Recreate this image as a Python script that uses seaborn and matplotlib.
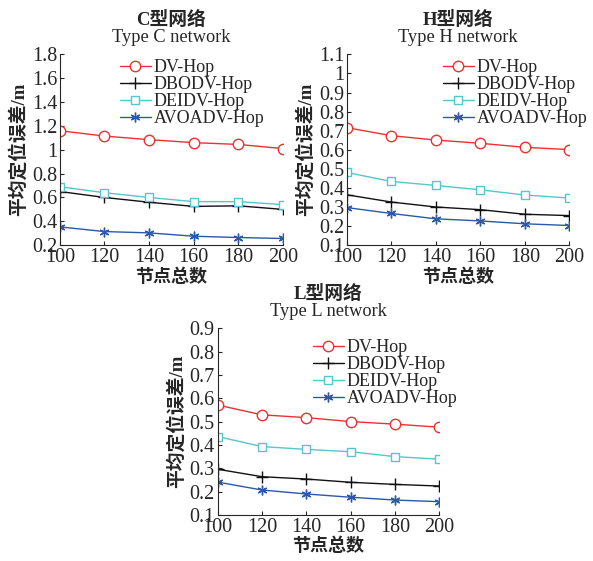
import numpy as np
import seaborn as sns
import matplotlib
matplotlib.use("Agg")
import matplotlib.pyplot as plt
from matplotlib.ticker import FormatStrFormatter

nodes = [100, 120, 140, 160, 180, 200]
methods = ["DV-Hop", "DBODV-Hop", "DEIDV-Hop", "AVOADV-Hop"]

# Type C network
c_dv = [1.16, 1.115, 1.085, 1.06, 1.045, 1.01]
c_dbodv = [0.65, 0.60, 0.56, 0.525, 0.53, 0.50]
c_deidv = [0.69, 0.64, 0.60, 0.565, 0.565, 0.54]
c_avoadv = [0.353, 0.314, 0.303, 0.275, 0.264, 0.256]

# Type H network
h_dv = [0.716, 0.674, 0.651, 0.634, 0.613, 0.601]
h_dbodv = [0.364, 0.326, 0.30, 0.286, 0.262, 0.255]
h_deidv = [0.481, 0.434, 0.413, 0.39, 0.363, 0.347]
h_avoadv = [0.297, 0.266, 0.238, 0.227, 0.212, 0.203]

# Type L network
l_dv = [0.571, 0.529, 0.517, 0.50, 0.489, 0.476]
l_dbodv = [0.296, 0.264, 0.254, 0.24, 0.231, 0.224]
l_deidv = [0.436, 0.393, 0.381, 0.371, 0.35, 0.339]
l_avoadv = [0.241, 0.207, 0.19, 0.176, 0.164, 0.157]

colors = ["#ee3030", "#111111", "#55c6cc", "#2b58a8"]
markers = ["o", "+", "s", (6, 2, 0)]
msizes = [7.5, 8, 5.5, 7]

sns.set_style("ticks")
plt.rcParams["font.family"] = ["Liberation Serif", "Noto Sans CJK SC"]
plt.rcParams["xtick.direction"] = "in"
plt.rcParams["ytick.direction"] = "in"

fig = plt.figure(figsize=(5.93, 5.61), dpi=100)

# axes rect, titles, series, y-range, y step, legend anchor
panels = [
    ([0.101, 0.563, 0.376, 0.340], "C型网络", "Type C network",
     [c_dv, c_dbodv, c_deidv, c_avoadv], (0.2, 1.8), 0.2, (0.268, 0.975)),
    ([0.585, 0.563, 0.375, 0.340], "H型网络", "Type H network",
     [h_dv, h_dbodv, h_deidv, h_avoadv], (0.1, 1.1), 0.1, (0.43, 0.975)),
    ([0.367, 0.082, 0.374, 0.333], "L型网络", "Type L network",
     [l_dv, l_dbodv, l_deidv, l_avoadv], (0.1, 0.9), 0.1, (0.428, 0.94)),
]

for rect, zh, en, series, ylim, step, lpos in panels:
    ax = fig.add_axes(rect)
    for name, vals, c, m, ms in zip(methods, series, colors, markers, msizes):
        sns.lineplot(ax=ax, x=nodes, y=vals, color=c, marker=m, markersize=ms,
                     markerfacecolor="white", markeredgecolor=c,
                     markeredgewidth=1.0, linewidth=1.0, label=name)
    ax.set_xlim(100, 200)
    ax.set_ylim(*ylim)
    ax.set_xticks(nodes)
    ax.set_yticks(np.round(np.arange(ylim[0], ylim[1] + step / 2, step), 2))
    ax.yaxis.set_major_formatter(FormatStrFormatter("%g"))
    ax.tick_params(labelsize=14.5, length=3, width=0.8, pad=2)
    for s in ["top", "right"]:
        ax.spines[s].set_visible(False)
    for s in ["left", "bottom"]:
        ax.spines[s].set_linewidth(0.8)
    ax.set_xlabel("节点总数", fontsize=13, fontweight="bold")
    ax.set_ylabel("平均定位误差/m", fontsize=13.5, fontweight="bold")
    ax.xaxis.set_label_coords(0.5, -0.12)
    ax.yaxis.set_label_coords(-0.145, 0.5)
    ax.text(0.5, 1.045, en, transform=ax.transAxes, ha="center", va="bottom",
            fontsize=13.2)
    ax.text(0.5, 1.135, zh, transform=ax.transAxes, ha="center", va="bottom",
            fontsize=13.5, fontweight="bold")
    ax.legend(loc="upper left", bbox_to_anchor=lpos, frameon=False,
              fontsize=13, labelspacing=0.0, handlelength=1.75,
              handletextpad=0.15, borderpad=0, borderaxespad=0)

fig.savefig("out.png", dpi=100)
